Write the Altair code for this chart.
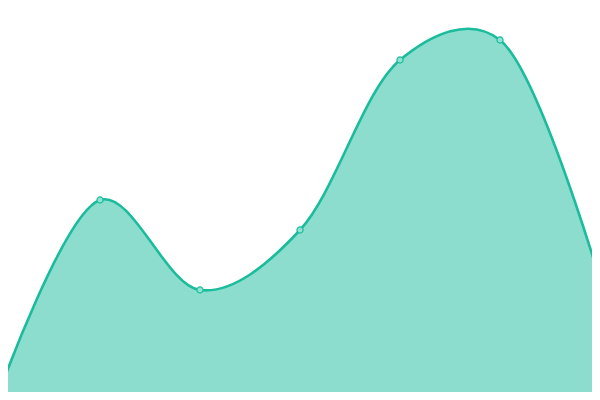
import altair as alt
import pandas as pd

xs = [0, 100, 200, 300, 400, 500, 600]
vals = [10, 200, 110, 170, 340, 360, 120]

df = pd.DataFrame({"x": xs, "v": vals})

xsc = alt.Scale(domain=[8, 592], nice=False, zero=False)
ysc = alt.Scale(domain=[8, 392], nice=False, zero=False)

base = alt.Chart(df).encode(
    x=alt.X("x:Q", scale=xsc, axis=None),
    y=alt.Y("v:Q", scale=ysc, axis=None),
)

area = base.mark_area(
    interpolate="catmull-rom",
    tension=0.25,
    color="#1abc9c",
    fillOpacity=0.5,
    line={"color": "#1abc9c", "strokeWidth": 2.6, "interpolate": "catmull-rom", "tension": 0.25},
)
pts = base.mark_point(
    filled=True, size=38, fill="#8fe3d2", stroke="#1abc9c", strokeWidth=1.2, opacity=1
)

chart = (
    (area + pts)
    .properties(width=584, height=384, padding=0, autosize=alt.AutoSizeParams(type="none"))
    .configure_view(stroke=None)
)

chart.save("out.html", embed_options={"renderer": "svg", "actions": False})
